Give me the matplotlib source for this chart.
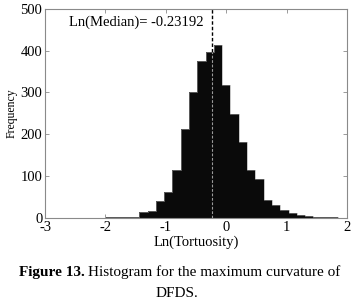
import numpy as np
import matplotlib.pyplot as plt

# histogram of ln(tortuosity), counts
bin_start = -1.99
bin_width = 0.1374
counts = [1, 2, 2, 3, 14, 16, 40, 62, 114, 213, 302, 376, 398, 414,
          318, 248, 182, 115, 94, 43, 30, 18, 12, 6, 4, 2, 2, 1]
median_ln = -0.23192

xticks = [-3, -2, -1, 0, 1, 2]
yticks = [0, 100, 200, 300, 400, 500]

plt.rcParams.update({
    "font.family": "Liberation Serif",
    "font.size": 10.5,
    "axes.unicode_minus": False,
    "axes.edgecolor": "#8a8a8a",
    "xtick.direction": "in", "ytick.direction": "in",
    "xtick.top": True, "ytick.right": True,
    "xtick.color": "#8a8a8a", "ytick.color": "#8a8a8a",
    "xtick.labelcolor": "black", "ytick.labelcolor": "black",
})

fig = plt.figure(figsize=(3.58, 3.06), dpi=100)
ax = fig.add_axes([0.126, 0.288, 0.843, 0.683])

edges = bin_start + bin_width * np.arange(len(counts) + 1)
ax.stairs(counts, edges, fill=True, color="#0a0a0a", zorder=2)
ax.stairs(counts, edges, color="#9a9a9a", linewidth=0.4, baseline=0, zorder=3)

# median marker: black above the bars, light grey inside them
k = np.searchsorted(edges, median_ln) - 1
ax.vlines(median_ln, counts[k], 500, color="black", linestyles=(0, (2.5, 1.5)),
          linewidth=1.0, zorder=4)
ax.vlines(median_ln, 0, counts[k], color="#9a9a9a", linestyles=(0, (2.5, 1.5)),
          linewidth=0.8, zorder=4)
ax.text(-2.6, 468, f"Ln(Median)= {median_ln:.5f}", fontsize=10.5, va="center")

ax.set_xlim(-3, 2)
ax.set_ylim(0, 500)
ax.set_xticks(xticks)
ax.set_yticks(yticks)
ax.tick_params(length=3, width=0.6, pad=2)
for s in ax.spines.values():
    s.set_linewidth(0.8)
ax.set_xlabel("Ln(Tortuosity)", fontsize=10.5, labelpad=1)
ax.set_ylabel("Frequency", fontsize=8.5, labelpad=2)

# caption: bold figure number, then plain text
fig.text(0.236, 0.111, "Figure 13.", ha="right", va="center",
         fontsize=11, fontweight="bold")
fig.text(0.245, 0.111, "Histogram for the maximum curvature of",
         ha="left", va="center", fontsize=11)
fig.text(0.495, 0.042, "DFDS.", ha="center", va="center", fontsize=11)

fig.savefig("out.png", dpi=100)
